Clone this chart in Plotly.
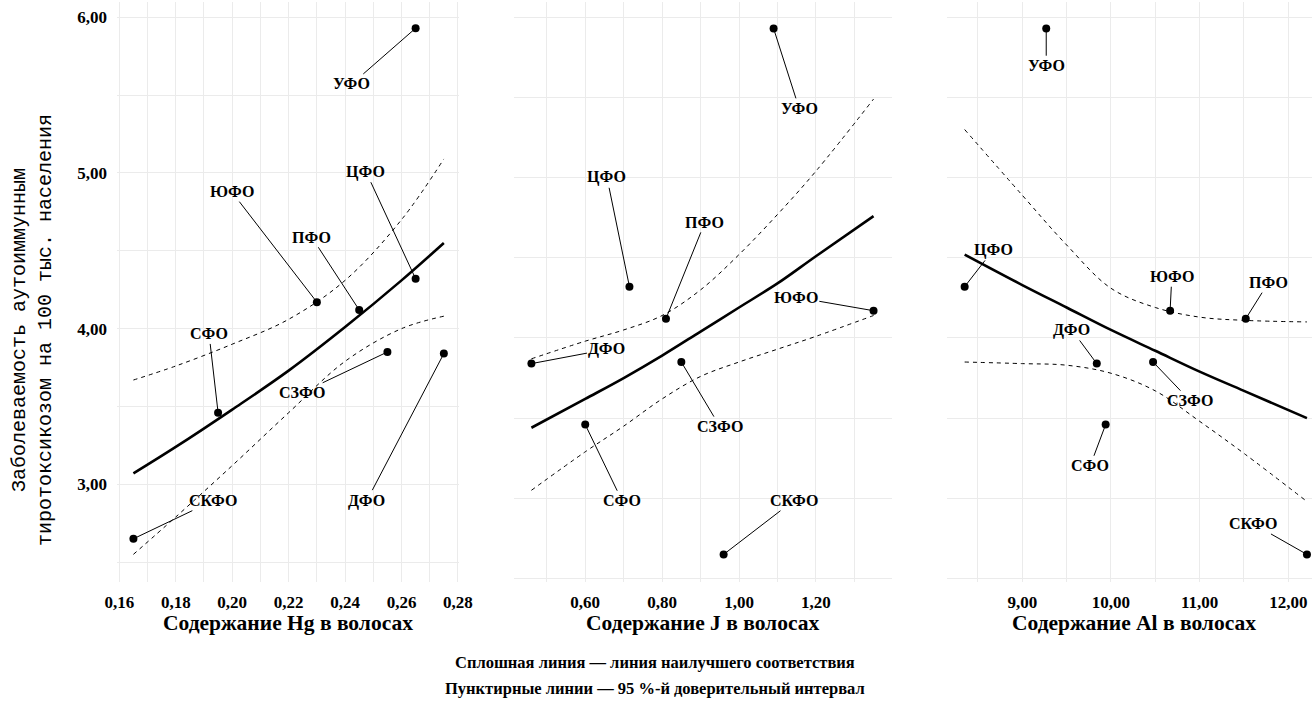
import plotly.graph_objects as go

# ---------------- data ----------------
regions = ["ЦФО", "СЗФО", "ЮФО", "СКФО", "ПФО", "УФО", "СФО", "ДФО"]
incidence = [4.32, 3.85, 4.17, 2.65, 4.12, 5.93, 3.46, 3.84]
hg = [0.265, 0.255, 0.230, 0.165, 0.245, 0.265, 0.195, 0.275]
iodine = [0.715, 0.85, 1.35, 0.96, 0.81, 1.09, 0.60, 0.46]
al = [8.35, 10.475, 10.667, 12.21, 11.52, 9.27, 9.94, 9.84]

hg_grid = [0.165, 0.18, 0.20, 0.22, 0.24, 0.26, 0.275]
hg_fit = [3.07, 3.24, 3.48, 3.73, 4.01, 4.31, 4.55]
hg_upper = [3.67, 3.76, 3.90, 4.06, 4.31, 4.70, 5.09]
hg_lower = [2.55, 2.79, 3.12, 3.46, 3.79, 4.00, 4.08]

j_grid = [0.46, 0.60, 0.70, 0.80, 0.90, 1.00, 1.10, 1.20, 1.35]
j_fit = [3.44, 3.62, 3.75, 3.89, 4.04, 4.19, 4.34, 4.51, 4.76]
j_upper = [3.87, 3.98, 4.05, 4.14, 4.30, 4.52, 4.77, 5.04, 5.49]
j_lower = [3.05, 3.29, 3.45, 3.62, 3.76, 3.85, 3.93, 4.01, 4.14]

al_grid = [8.35, 9.0, 9.5, 10.0, 10.5, 11.0, 11.5, 12.21]
al_fit = [4.52, 4.33, 4.19, 4.05, 3.92, 3.79, 3.67, 3.50]
al_upper = [5.30, 4.89, 4.58, 4.31, 4.19, 4.13, 4.11, 4.10]
al_lower = [3.85, 3.84, 3.83, 3.78, 3.67, 3.48, 3.28, 2.98]

x_titles = ["Содержание Hg в волосах", "Содержание J в волосах", "Содержание Al в волосах"]
y_title = "Заболеваемость аутоиммунным<br>тиротоксикозом на 100 тыс. населения"
caption1 = "Сплошная линия — линия наилучшего соответствия"
caption2 = "Пунктирные линии — 95 %-й доверительный интервал"

# ---------------- label placement (repelled label centres, data coords) ----------------
hg_lab = {"ЦФО": (0.2474, 5.008), "СЗФО": (0.2246, 3.588), "ЮФО": (0.1998, 4.880),
          "СКФО": (0.1933, 2.895), "ПФО": (0.2282, 4.587), "УФО": (0.2424, 5.572),
          "СФО": (0.1918, 3.966), "ДФО": (0.2477, 2.895)}
j_lab = {"ЦФО": (0.6565, 5.002), "СЗФО": (0.9503, 3.447), "ЮФО": (1.1478, 4.254),
         "СКФО": (1.1418, 2.985), "ПФО": (0.9112, 4.721), "УФО": (1.1564, 5.432),
         "СФО": (0.6957, 2.985), "ДФО": (0.6565, 3.929)}
al_lab = {"ЦФО": (8.672, 4.549), "СЗФО": (10.892, 3.609), "ЮФО": (10.686, 4.382),
          "СКФО": (11.606, 2.840), "ПФО": (11.775, 4.345), "УФО": (9.27, 5.698),
          "СФО": (9.766, 3.203), "ДФО": (9.559, 4.050)}

W, H = 1312, 704
panels = [
    dict(x=hg, gx=hg_grid, fit=hg_fit, up=hg_upper, lo=hg_lower, lab=hg_lab,
         px=(117, 459), xr=[0.15918, 0.28037], yr=[2.3724, 6.1015],
         tick0=0.16, dtick=0.02, mdt=0.01, ylabels=True),
    dict(x=iodine, gx=j_grid, fit=j_fit, up=j_upper, lo=j_lower, lab=j_lab,
         px=(514, 892), xr=[0.4147, 1.398], yr=[2.478, 6.0985],
         tick0=0.6, dtick=0.2, mdt=0.1, ylabels=False),
    dict(x=al, gx=al_grid, fit=al_fit, up=al_upper, lo=al_lower, lab=al_lab,
         px=(947, 1312), xr=[8.151, 12.267], yr=[2.478, 6.0985],
         tick0=9.0, dtick=1.0, mdt=0.5, ylabels=False),
]
title_centres = [288, 703, 1134]

y_dom = [1 - 582 / H, 1 - 1.5 / H]
GRID = "#ebebeb"
SERIF = "Liberation Serif"

fig = go.Figure()
annotations = []
for i, p in enumerate(panels):
    sfx = "" if i == 0 else str(i + 1)
    xa, ya = "x" + sfx, "y" + sfx
    # CI lines
    for arr in (p["up"], p["lo"]):
        fig.add_trace(go.Scatter(x=p["gx"], y=arr, mode="lines", xaxis=xa, yaxis=ya,
                                 line=dict(color="black", width=1, dash="4px,4px", shape="spline"),
                                 hoverinfo="skip", showlegend=False))
    # fit line
    fig.add_trace(go.Scatter(x=p["gx"], y=p["fit"], mode="lines", xaxis=xa, yaxis=ya,
                             line=dict(color="black", width=2.6, shape="spline"),
                             hoverinfo="skip", showlegend=False))
    # points
    fig.add_trace(go.Scatter(x=p["x"], y=incidence, mode="markers", xaxis=xa, yaxis=ya,
                             marker=dict(color="black", size=8), text=regions,
                             showlegend=False))
    # labels with segments
    for r, xv, yv in zip(regions, p["x"], incidence):
        lx, ly = p["lab"][r]
        annotations.append(dict(x=xv, y=yv, ax=lx, ay=ly, xref=xa, yref=ya, axref=xa, ayref=ya,
                                text="<b>" + r + "</b>", showarrow=True, arrowhead=0,
                                arrowwidth=1, arrowcolor="black", standoff=0,
                                font=dict(family=SERIF, size=16, color="black")))
    dom = [p["px"][0] / W, p["px"][1] / W]
    axis_x = dict(domain=dom, range=p["xr"], anchor=ya, tick0=p["tick0"], dtick=p["dtick"],
                  tickformat=".2f", showgrid=True, gridcolor=GRID, gridwidth=1, zeroline=False,
                  showline=False, ticks="", ticklabelstandoff=8, automargin=False,
                  tickfont=dict(family=SERIF, size=17, color="black", weight="bold"),
                  minor=dict(tick0=p["tick0"], dtick=p["mdt"], showgrid=True, gridcolor=GRID,
                             gridwidth=1))
    axis_y = dict(domain=y_dom, range=p["yr"], anchor=xa, tick0=3, dtick=1, tickformat=".2f",
                  showgrid=True, gridcolor=GRID, gridwidth=1, zeroline=False, showline=False,
                  ticks="", showticklabels=p["ylabels"], ticklabelstandoff=9, automargin=False,
                  tickfont=dict(family=SERIF, size=17, color="black", weight="bold"),
                  minor=dict(tick0=2.5, dtick=0.5, showgrid=True, gridcolor=GRID, gridwidth=1))
    fig.update_layout(**{"xaxis" + sfx: axis_x, "yaxis" + sfx: axis_y})
    annotations.append(dict(x=title_centres[i] / W, y=1 - 623 / H, xref="paper", yref="paper",
                            text="<b>" + x_titles[i] + "</b>", showarrow=False,
                            xanchor="center", yanchor="middle",
                            font=dict(family=SERIF, size=21.5, color="black")))

annotations.append(dict(x=32 / W, y=1 - 330 / H, xref="paper", yref="paper", text=y_title,
                        showarrow=False, textangle=-90, xanchor="center", yanchor="middle",
                        font=dict(family="Liberation Mono", size=20, color="black")))
annotations.append(dict(x=655 / W, y=1 - 662 / H, xref="paper", yref="paper",
                        text="<b>" + caption1 + "</b>", showarrow=False,
                        xanchor="center", yanchor="middle",
                        font=dict(family=SERIF, size=16.5, color="black")))
annotations.append(dict(x=655 / W, y=1 - 688 / H, xref="paper", yref="paper",
                        text="<b>" + caption2 + "</b>", showarrow=False,
                        xanchor="center", yanchor="middle",
                        font=dict(family=SERIF, size=16.5, color="black")))

fig.update_layout(width=W, height=H, autosize=False, margin=dict(l=0, r=0, t=0, b=0),
                  paper_bgcolor="white", plot_bgcolor="white", separators=", ",
                  showlegend=False, annotations=annotations, hovermode=False)
fig.write_html("out.html", config={"displayModeBar": False, "staticPlot": True},
               post_script="document.body.style.margin='0';document.body.style.overflow='hidden';")
